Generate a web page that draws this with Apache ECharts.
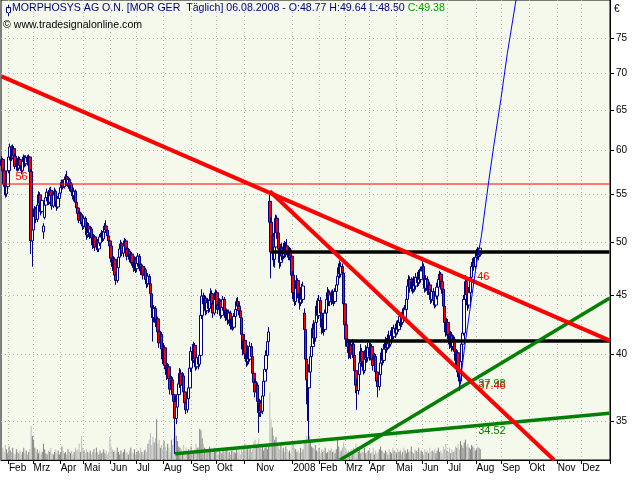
<!DOCTYPE html>
<html><head><meta charset="utf-8">
<script src="https://cdn.jsdelivr.net/npm/echarts@6/dist/echarts.min.js"></script>
<style>html,body{margin:0;padding:0;background:#fff}#c{width:640px;height:480px}</style>
</head><body><div id="c"></div>
<script>
// ---------- calendar ----------
const startDate = '2007-01-24';
const endDate = '2009-01-07';
const holidays = ['2007-04-06','2007-04-09','2007-05-01','2007-12-24','2007-12-25','2007-12-26','2007-12-31',
  '2008-01-01','2008-03-21','2008-03-24','2008-05-01','2008-12-24','2008-12-25','2008-12-26','2008-12-31','2009-01-01'];
const monthNames = ['Jan','Feb','Mrz','Apr','Mai','Jun','Jul','Aug','Sep','Okt','Nov','Dez'];
const hiddenMonthTicks = ['2007-12','2009-01'];
const yTicks = [35,40,45,50,55,60,65,70,75];
const yMinPrice = 32.4, yMaxPrice = 80.9;
const volAxisMax = 3400;

// ---------- daily candles [open, close, low, high] ----------
const candlesA = [
[58.2,58.9,57.8,59.3],[58.9,57.6,57.3,59.1],[57.6,56.1,55.8,57.9],[56.1,54.9,54.6,56.4],[55.0,55.8,54.7,56.2],
[55.8,57.6,55.5,58.0],[57.6,59.2,57.3,59.6],[59.2,60.4,58.8,60.8],[60.4,59.1,58.7,60.6],[59.1,60.2,58.9,60.7],
[60.2,59.3,58.8,60.5],[59.3,58.1,57.8,59.6],[58.1,58.8,57.6,59.2],[58.8,57.9,57.5,59.1],[57.9,58.9,57.6,59.3],
[58.9,58.2,57.8,59.2],[58.2,57.6,57.2,58.6],[57.6,58.7,57.4,59.0],[58.7,59.2,58.3,59.5],[59.2,58.4,58.0,59.4],
[58.4,59.1,58.1,59.4],[59.1,58.6,58.2,59.4],[58.6,59.2,58.3,59.5],[59.2,57.5,57.1,59.3],[57.5,50.1,48.8,57.8],
[50.1,51.2,47.6,51.8],[51.2,52.6,50.8,53.0],[52.6,53.4,52.1,53.7],[53.4,52.3,51.9,53.6],[52.3,53.8,52.0,54.2],
[53.8,54.9,53.5,55.3],[54.9,54.0,53.6,55.2],[54.0,53.1,52.7,54.3],[53.1,54.3,52.9,54.6],[51.0,51.6,50.3,51.9],
[52.5,53.8,52.3,54.1],[53.8,54.6,53.4,55.0],[54.6,55.2,54.2,55.6],[55.2,54.1,53.8,55.4],[54.1,55.4,53.9,55.7],
[55.4,54.8,54.4,55.8],[54.8,53.7,53.3,55.0],[53.7,54.9,53.5,55.2],[54.9,55.3,54.6,55.7],[55.3,54.2,53.9,55.5],
[54.2,53.6,53.2,54.5],[53.6,54.5,53.4,54.8],[54.5,55.1,54.2,55.4],[55.1,55.7,54.8,56.0],[55.7,56.3,55.4,56.6]];
const candlesB = [
[56.3,55.8,55.5,56.6],[55.8,56.6,55.6,56.9],[56.6,56.9,56.2,57.2],[56.9,56.2,55.9,57.6],[56.2,56.6,55.8,57.0],
[56.6,55.6,55.3,56.8],[55.6,56.1,55.2,56.5],[56.1,55.3,55.0,56.3],[55.3,54.8,54.4,55.7],[54.8,55.3,54.2,55.7],
[55.3,54.1,53.8,55.5],[54.1,53.5,53.1,54.4],[53.5,52.9,52.6,53.8],[52.9,52.2,51.9,53.2],[52.2,52.8,51.8,53.1],
[52.8,52.0,51.7,53.0],[52.0,51.6,51.2,52.3],[51.6,52.4,51.3,52.7],[52.4,51.5,51.1,52.6],[51.5,50.7,50.2,51.8],
[50.7,51.6,50.4,52.0],[51.6,50.9,50.5,51.9],[50.9,51.3,50.3,51.6],[51.3,50.4,50.0,51.5],[50.4,49.7,49.3,50.7],
[49.7,50.5,49.4,50.8],[50.5,49.5,49.1,50.7],[49.5,50.1,49.2,50.4],[50.1,49.3,49.0,50.3],[49.3,49.9,49.0,50.2],
[49.9,50.5,49.6,50.8],[50.5,50.9,50.2,51.2],[50.9,50.3,50.0,51.1],[50.3,51.0,50.1,51.3],[51.0,51.6,50.8,51.9],
[51.6,51.2,50.9,52.2],[51.2,50.6,50.3,51.4],[50.6,50.1,49.8,50.9],[50.1,49.6,49.2,50.4],[49.6,48.4,48.0,49.8],
[48.4,47.6,47.2,48.7],[47.6,48.3,47.2,48.6],[48.3,46.8,46.4,48.5],[46.8,46.3,45.9,47.1],[46.3,47.5,46.1,47.8],
[47.5,48.5,47.3,48.8],[48.5,49.3,48.2,49.6],[49.3,49.8,48.9,50.2],[49.8,48.9,48.6,50.0],[48.9,49.6,48.5,49.9]];
const candlesC = [
[49.6,50.1,49.2,50.4],[50.1,49.3,49.0,50.3],[49.3,48.6,48.2,49.5],[48.6,49.1,48.3,49.4],[49.1,48.3,48.0,49.3],
[48.3,48.8,47.9,49.1],[48.8,48.0,47.7,49.0],[48.0,47.5,47.1,48.3],[47.5,48.3,47.2,48.6],[48.3,47.4,47.0,48.5],
[47.4,47.9,47.1,48.2],[47.9,48.6,47.6,48.9],[48.6,47.8,47.4,48.8],[47.8,47.2,46.8,48.0],[47.2,47.6,46.9,47.9],
[47.6,46.8,46.4,47.8],[46.8,47.3,46.5,47.6],[47.3,46.4,46.0,47.5],[46.4,46.0,45.6,46.7],[46.0,46.7,45.7,47.0],
[46.7,46.0,45.6,46.9],[46.0,45.1,44.7,46.3],[45.1,43.9,43.5,45.4],[43.9,43.0,41.0,44.2],[43.0,43.8,42.6,44.1],
[43.8,42.6,42.2,44.0],[42.6,42.9,42.0,43.3],[42.9,41.8,41.4,43.1],[41.8,40.9,40.5,42.0],[40.9,41.6,40.6,41.9],
[41.6,40.4,40.1,41.8],[40.4,39.6,39.2,40.7],[39.6,40.5,39.3,40.9],[40.5,39.1,38.8,40.7],[39.1,38.4,38.0,39.4],
[38.4,39.0,38.1,39.3],[39.0,38.1,37.8,39.2],[38.1,37.3,36.9,38.4],[37.3,38.0,37.0,38.3],[38.0,36.9,36.5,38.2],
[36.9,36.4,36.0,37.2],[36.4,35.2,32.8,36.8],[35.2,36.0,34.8,36.4],[36.0,36.9,35.7,37.2],[36.9,37.7,36.6,38.0],
[37.7,38.5,37.4,38.9],[38.5,37.6,37.2,38.8],[37.6,38.3,37.3,38.6],[38.3,37.1,36.8,38.5],[37.1,36.3,35.9,37.3]];
const candlesD = [
[36.3,35.8,35.5,36.6],[35.8,36.6,35.6,36.9],[36.6,37.4,36.3,37.6],[37.4,38.9,37.2,39.3],[38.9,40.2,38.6,40.6],
[40.2,39.5,39.1,40.8],[39.5,40.7,39.3,41.0],[40.7,39.6,39.2,40.9],[39.6,39.0,38.7,39.9],[39.0,39.7,38.8,40.0],
[39.7,39.2,38.8,39.9],[39.2,39.9,39.0,40.2],[39.9,43.2,39.7,43.6],[43.2,44.9,42.9,45.5],[44.9,44.2,43.7,45.2],
[44.2,44.7,43.8,45.0],[44.7,43.6,43.2,44.9],[43.6,44.3,43.3,44.6],[44.3,43.8,43.4,44.6],[43.8,44.5,43.5,44.8],
[44.5,45.1,44.2,45.6],[45.1,44.2,43.8,45.4],[44.2,43.4,43.0,44.5],[43.4,44.6,43.2,44.9],[44.6,45.2,44.3,45.5],
[45.2,44.1,43.8,45.4],[44.1,43.7,43.3,44.4],[43.7,44.4,43.4,44.7],[44.4,43.2,42.9,44.6],[43.2,43.9,43.0,44.2],
[43.9,44.6,43.6,44.9],[44.6,43.6,43.3,44.8],[43.6,43.0,42.7,43.9],[43.0,43.5,42.8,43.8],[43.5,42.8,42.4,43.7],
[42.8,43.4,42.5,43.7],[43.4,42.3,42.0,43.6],[42.3,42.9,42.0,43.2],[42.9,42.2,41.9,43.1],[42.2,43.1,42.0,43.4],
[43.1,43.7,42.8,44.0],[43.7,44.4,43.4,44.7],[44.4,44.0,43.6,44.8],[44.0,43.6,43.2,44.3],[43.6,43.0,42.6,43.9],
[43.0,41.6,41.2,43.2],[41.6,40.4,39.9,41.9],[40.4,41.1,40.0,41.5],[41.1,40.0,39.6,41.3],[40.0,39.4,39.0,40.3]];
const candlesE = [
[39.4,40.3,39.1,40.7],[40.3,39.6,39.2,40.6],[39.6,40.6,39.4,41.0],[40.6,39.8,39.4,40.9],[39.8,38.5,38.1,40.1],
[38.5,37.8,37.4,38.8],[37.8,37.1,36.7,38.1],[37.1,37.6,36.8,37.9],[37.6,36.4,36.0,37.8],[36.4,35.6,34.2,36.7],
[35.6,36.3,35.3,36.6],[36.3,35.7,35.3,36.5],[35.7,36.8,35.5,37.1],[36.8,37.9,36.6,38.2],[37.9,38.8,37.6,39.2],
[38.8,39.9,38.6,40.3],[39.9,41.0,39.6,41.4],[41.0,41.8,40.7,42.2],[54.2,52.0,50.5,55.3],[52.0,49.0,46.5,52.5],
[49.0,50.6,48.2,51.2],[50.6,48.3,47.6,50.9],[48.3,49.5,47.5,50.0],[49.5,52.4,49.2,52.8],[52.4,50.9,50.3,52.7],
[50.9,49.3,48.8,51.3],[49.3,48.0,47.4,49.6],[48.0,49.4,47.6,49.8],[49.4,48.6,48.2,49.9],[48.6,49.5,48.3,49.9],
[49.5,48.8,48.4,50.1],[48.8,49.6,48.5,50.0],[49.6,49.0,48.7,50.3],[49.0,48.5,48.2,49.4],[48.5,49.2,48.2,49.5],
[49.2,48.6,48.2,49.4],[48.6,46.8,46.4,48.8],[46.8,45.2,44.6,47.2],[45.2,44.4,44.0,45.6],[44.4,45.6,44.1,46.0],
[45.6,46.3,45.2,46.8],[46.3,45.1,44.7,46.5],[45.1,44.3,43.7,45.4],[44.3,45.3,44.0,45.7],[45.3,44.6,44.2,46.0],
[44.6,45.8,44.3,46.2],[43.4,42.0,41.8,43.8],[42.0,39.6,39.0,42.3],[39.6,38.0,36.2,40.0],[38.0,37.4,35.0,38.6]];
const candlesF = [
[37.4,38.6,33.7,39.2],[38.6,39.8,38.0,40.4],[39.8,40.6,39.3,41.2],[40.6,42.1,40.3,42.5],[42.1,41.3,40.8,42.8],
[41.3,42.6,41.0,43.1],[42.6,44.0,42.3,44.5],[44.0,43.2,42.7,44.7],[43.2,44.5,42.9,45.0],[44.5,43.4,42.9,44.8],
[43.4,42.2,41.6,43.6],[42.2,42.9,41.7,43.3],[42.9,42.0,41.5,43.2],[42.0,43.4,41.8,43.7],[43.4,44.6,43.2,45.0],
[44.6,45.2,44.2,45.7],[45.2,44.4,44.0,45.5],[44.4,45.0,44.0,45.4],[45.0,44.5,44.1,45.4],[44.5,45.1,44.2,45.5],
[45.1,44.4,44.0,45.3],[44.4,45.3,44.2,45.6],[45.3,45.9,44.9,46.3],[45.9,46.7,45.6,47.0],[46.7,47.5,46.4,47.9],
[47.5,46.9,46.5,48.2],[46.9,47.6,46.6,48.0],[47.6,47.0,46.6,47.9],[47.0,44.2,43.8,47.3],[44.2,42.4,42.0,44.5],
[42.4,41.2,40.6,42.7],[41.2,40.6,40.2,41.6],[40.6,40.1,39.6,40.9],[40.1,40.7,39.7,41.1],[40.7,40.0,39.6,41.0],
[40.0,40.8,39.7,41.2],[40.8,39.9,39.5,41.0],[39.9,38.7,38.2,40.2],[38.7,37.6,37.0,39.0],[37.6,37.2,35.8,38.1],
[37.2,38.4,36.9,38.8],[38.4,39.3,38.0,39.7],[39.3,40.2,39.0,40.8],[40.2,39.4,39.0,40.5],[39.4,38.7,38.4,39.7],
[38.7,39.6,38.5,40.0],[39.6,40.3,39.3,40.7],[40.3,39.7,39.3,40.6],[39.7,40.5,39.4,40.9],[40.5,39.8,39.5,41.1]];
const candlesG = [
[39.8,40.6,39.5,40.9],[40.6,39.6,39.2,40.8],[39.6,39.1,38.7,39.9],[39.1,39.8,38.9,40.1],[39.8,38.6,38.2,40.0],
[38.6,37.9,37.5,38.9],[37.9,37.5,36.7,38.2],[37.5,38.4,37.2,38.7],[38.4,39.3,38.1,39.6],[39.3,40.1,39.0,40.5],
[40.1,39.5,39.1,40.4],[39.5,40.4,39.3,40.8],[40.4,41.0,40.1,41.4],[41.0,40.5,40.1,41.3],[40.5,41.2,40.3,41.6],
[41.2,40.8,40.4,41.9],[40.8,41.5,40.6,41.8],[41.5,41.9,41.2,42.2],[41.9,41.4,41.1,42.2],[41.4,42.1,41.2,42.4],
[42.1,41.7,41.3,42.5],[41.7,42.4,41.5,42.7],[42.4,42.0,41.6,42.8],[42.0,42.6,41.8,42.9],[42.6,43.1,42.3,43.4],
[43.1,42.6,42.2,43.5],[42.6,43.4,42.4,43.8],[43.4,43.0,42.6,43.9],[43.0,43.7,42.8,44.1],[43.7,44.6,43.5,45.0],
[44.6,45.8,44.4,46.2],[45.8,46.4,45.4,46.8],[46.4,45.6,45.2,46.7],[45.6,46.2,45.3,46.6],[46.2,45.5,45.1,46.5],
[45.5,46.3,45.2,46.7],[46.3,45.8,45.3,46.6],[45.8,46.6,45.5,47.0],[46.6,46.1,45.7,47.1],[46.1,46.9,45.8,47.3],
[46.9,46.4,46.0,47.4],[46.4,47.2,46.1,47.6],[47.2,47.6,46.8,48.4],[47.6,46.5,46.1,47.9],[46.5,45.6,45.2,46.8],
[45.6,46.4,45.3,46.8],[46.4,45.4,45.0,46.7],[45.4,45.9,45.0,46.3],[45.9,45.2,44.8,46.2],[45.2,44.6,44.2,45.5]];
const candlesH = [
[44.6,45.3,44.3,45.7],[45.3,44.5,44.1,45.6],[44.5,44.1,43.8,44.9],[44.1,44.9,43.9,45.2],[44.9,45.7,44.6,46.1],
[45.7,46.4,45.4,46.8],[46.4,46.9,46.0,47.2],[46.9,46.2,45.8,47.1],[46.2,45.5,45.1,46.5],[45.5,44.0,43.6,45.8],
[44.0,42.6,42.2,44.3],[42.6,41.8,41.4,42.9],[41.8,42.6,41.5,43.0],[42.6,41.6,41.2,42.9],[41.6,40.8,40.4,41.9],
[40.8,41.5,40.5,41.9],[41.5,40.6,40.2,41.8],[40.6,41.2,40.3,41.6],[41.2,40.2,39.8,41.4],[40.2,39.5,39.1,40.5],
[39.5,40.1,39.0,40.4],[40.1,38.6,38.2,40.3],[38.6,37.9,37.2,38.9],[37.9,39.4,37.7,39.8],[39.4,40.8,39.1,41.2],
[40.8,41.7,40.5,42.1],[41.7,44.6,41.5,45.0],[44.6,46.2,44.2,46.8],[46.2,45.0,44.4,46.5],[45.0,44.1,43.6,45.6],
[44.1,45.2,43.8,45.7],[45.2,46.6,44.9,47.0],[46.6,47.6,46.2,48.0],[47.6,48.0,47.1,48.4],[48.0,47.6,47.2,48.5],
[47.6,48.5,47.4,48.9],[48.5,49.0,48.2,49.3],[49.0,48.6,48.3,49.5],[48.6,48.8,48.2,49.2],[48.77,49.38,48.50,49.64]];

// ---------- daily volume (thousand shares) ----------
const volume2007a = [70,90,60,110,80,50,100,70,60,90, 50,40,80,60,50,70,40,60,90,50, 70,40,60,80,250,180,150,90,60,80,
 50,70,40,60,120,80,50,40,70,60, 90,50,40,60,80,50,70,40,60,100, 70,50,60,40,80,60,50,70,40,60,
 90,70,80,120,60,180,90,70,50,80, 60,50,70,40,60,80,50,90,60,40, 70,50,60,80,50,70,40,60,170,100,
 80,60,70,50,90,60,40,70,50,60];
const volume2007b = [80,50,60,40,70,90,60,50,80,40, 60,70,50,90,60,40,70,80,60,120, 150,200,110,170,130,160,300,120,150,90,
 110,80,140,100,70,120,90,60,150,110, 160,240,180,140,100,90,80,60,110,70, 90,60,80,50,100,70,60,80,120,90,
 90,230,220,160,120,90,70,60,80,100, 60,70,50,90,60,80,40,70,60,50, 80,60,70,90,50,60,40,70,80,60,
 50,90,60,70,40,80,60,100,120,80];
const volume2008a = [90,70,110,60,80,130,150,100,120,160, 90,80,100,70,90,120,80,110,500,300, 240,180,150,170,120,100,80,120,70,90,
 60,100,80,60,70,50,110,140,90,80, 60,70,50,90,60,80,130,150,180,120, 180,140,100,90,80,110,70,60,90,50,
 80,60,70,90,50,60,80,70,90,60, 70,50,80,160,100,60,70,90,130,100, 80,60,70,50,80,60,90,70,120,100,
 60,80,50,70,60,90,50,60,70,80];
const volume2008b = [50,60,90,40,70,50,60,80,100,70, 60,50,70,60,40,80,60,50,90,70, 60,50,80,60,70,40,60,90,70,50,
 80,60,70,100,60,50,80,70,60,90, 50,70,60,40,80,60,70,50,90,60, 70,60,80,50,70,90,60,70,50,100,
 80,120,70,60,90,50,80,60,70,100, 90,120,80,140,110,90,130,150,100,120, 90,80,110,100,90,70,80,100,90,80];

// ---------- drawn lines [dayIndex, price] ----------
const trendRedLong   = [[0, 69.5], [494, 41.1]];
const trendRedSteep  = [[218, 55.3], [449, 32.4]];
const trendGreenSteep= [[275, 32.4], [494, 44.7]];
const trendGreenFlat = [[141, 32.8], [494, 35.56]];
const levelUpper     = [[219, 49.0], [494, 49.0]];
const levelLower     = [[281, 41.06], [494, 41.06]];
const level56        = [[0, 56.1], [494, 56.1]];
const blueProjection = [[372,37.2],[376,40.3],[380,43.2],[386,47.9],[390,50.6],[396,56.5],[400,60.5],[406,66.6],[411,72.7],[419,82.0]];

// labels on lines: [dayIndex, price, text]
const label56    = [12, 56.1, '56'];
const labelRed   = [389, 46, '46'];
const labelRedS  = [389, 37.46, '37.46'];
const labelGreenS= [389, 37.98, '37.98'];
const labelGreenF= [389, 34.52, '34.52'];

// ---------- build ----------
const cats = [];
(function(){
  const d = new Date(startDate + 'T12:00:00Z'), e = new Date(endDate + 'T12:00:00Z');
  while (d <= e) {
    const wd = d.getUTCDay(), s = d.toISOString().slice(0,10);
    if (wd !== 0 && wd !== 6 && holidays.indexOf(s) < 0) cats.push(s);
    d.setUTCDate(d.getUTCDate() + 1);
  }
})();
const monthStart = cats.map((c, i) => i > 0 && c.slice(0,7) !== cats[i-1].slice(0,7) && hiddenMonthTicks.indexOf(c.slice(0,7)) < 0);
const isTick = (i) => !!monthStart[i];

const L = Math.log;
const candles = [].concat(candlesA, candlesB, candlesC, candlesD, candlesE, candlesF, candlesG, candlesH);
const candlesLog = candles.map(c => c.map(L));
const volume = [].concat(volume2007a, volume2007b, volume2008a, volume2008b);
const ff = '"Liberation Sans", Arial, sans-serif';

const volData = volume.map((v, i) => ({
  value: v,
  itemStyle: { color: (candles[i] && candles[i][1] >= candles[i][0]) ? '#808080' : '#bcbcbc' }
}));

function lineSeries(name, pts, color, width, lab, off, z) {
  const s = {
    name, type: 'line', data: pts.map(p => [p[0], L(p[1])]), symbol: 'none', silent: true,
    lineStyle: { color, width }, z: z || 5, clip: true, animation: false
  };
  if (lab) {
    s.markPoint = {
      symbol: 'circle', symbolSize: 0, silent: true, animation: false,
      data: [{ coord: [lab[0], L(lab[1])], value: lab[2],
        label: { show: true, formatter: lab[2], position: 'right', distance: 0, offset: off,
          color, fontSize: 11, fontFamily: ff } }]
    };
  }
  return s;
}

const chart = echarts.init(document.getElementById('c'), null, { renderer: 'canvas' });
chart.setOption({
  animation: false,
  backgroundColor: '#ffffff',
  title: [
    { left: 12, top: 3, padding: 0,
      text: '{a|MORPHOSYS AG O.N. [MOR GER  Täglich] 06.08.2008 - O:48.77 H:49.64 L:48.50 }{b|C:49.38}',
      textStyle: { fontWeight: 'normal', rich: {
        a: { color: '#000080', fontSize: 10.6, fontWeight: 'normal', fontFamily: ff },
        b: { color: '#00a000', fontSize: 10.6, fontWeight: 'normal', fontFamily: ff } } } },
    { left: 3, top: 20, padding: 0, text: '© www.tradesignalonline.com',
      textStyle: { color: '#000000', fontSize: 10.6, fontWeight: 'normal', fontFamily: ff } },
    { left: 614, top: 4, padding: 0, text: '€',
      textStyle: { color: '#000000', fontSize: 10, fontWeight: 'normal', fontFamily: ff } }
  ],
  graphic: [{
    type: 'group', silent: true, children: [
      { type: 'line', shape: { x1: 8.5, y1: 4, x2: 8.5, y2: 16 }, style: { stroke: '#000080', lineWidth: 1 } },
      { type: 'rect', shape: { x: 6.5, y: 7.5, width: 4, height: 5 }, style: { fill: '#ffffff', stroke: '#000080', lineWidth: 1 } }
    ]
  }],
  grid: { left: 1, right: 30, top: 0, bottom: 20, show: true, backgroundColor: '#f4f9ec',
          borderColor: '#000000', borderWidth: 1, containLabel: false },
  xAxis: {
    type: 'category', data: cats, boundaryGap: true,
    axisLine: { show: true, lineStyle: { color: '#000000', width: 1 } },
    axisTick: { show: true, interval: (i) => isTick(i), length: 4, lineStyle: { color: '#000000' } },
    axisLabel: {
      interval: (i) => isTick(i), align: 'left', margin: 3, color: '#000000', fontSize: 10, fontFamily: ff,
      formatter: (v) => {
        const m = +v.slice(5,7);
        if (v.slice(0,7) === '2007-11') return '{n|Nov}';
        return m === 1 ? v.slice(0,4) : monthNames[m-1];
      },
      rich: { n: { padding: [0,0,0,11], color: '#000000', fontSize: 10, fontFamily: ff } }
    },
    splitLine: { show: true, interval: (i) => isTick(i), lineStyle: { type: [1,3], color: '#b4b4b4', width: 1 } }
  },
  yAxis: [{
    type: 'value', position: 'right', min: L(yMinPrice), max: L(yMaxPrice), scale: true,
    axisLine: { show: true, lineStyle: { color: '#000000' } },
    axisTick: { show: true, customValues: yTicks.map(L), length: 4, lineStyle: { color: '#000000' } },
    axisLabel: { customValues: yTicks.map(L), margin: 6, color: '#000000', fontSize: 10, fontFamily: ff,
      formatter: (v) => String(Math.round(Math.exp(v))) },
    splitLine: { show: true, lineStyle: { type: [1,3], color: '#b4b4b4', width: 1 } }
  }, {
    type: 'value', min: 0, max: volAxisMax, show: false,
    axisLine: { show: false }, axisTick: { show: false }, axisLabel: { show: false }, splitLine: { show: false }
  }],
  series: [
    { name: 'Volume', type: 'bar', xAxisIndex: 0, yAxisIndex: 1, data: volData, barWidth: 1,
      silent: true, z: 1, animation: false },
    { name: 'MOR', type: 'candlestick', xAxisIndex: 0, yAxisIndex: 0, data: candlesLog, barWidth: 3, silent: true, z: 2, animation: false,
      itemStyle: { color: '#ffffff', color0: '#ff0000', borderColor: '#000080', borderColor0: '#000080', borderWidth: 1 } },
    lineSeries('level56', level56, '#ff0000', 1, label56, [-1, -7], 4),
    lineSeries('levelUpper', levelUpper, '#000000', 3.5, null, null, 5),
    lineSeries('levelLower', levelLower, '#000000', 3.5, null, null, 5),
    lineSeries('greenFlat', trendGreenFlat, '#008000', 3.5, labelGreenF, [-2, 3], 6),
    lineSeries('greenSteep', trendGreenSteep, '#008000', 3.5, labelGreenS, [-2, 4], 6),
    lineSeries('redLong', trendRedLong, '#ff0000', 4, labelRed, [-3, -7], 7),
    lineSeries('redSteep', trendRedSteep, '#ff0000', 4, labelRedS, [-2, -1], 7),
    lineSeries('blue', blueProjection, '#0000ff', 1, null, null, 8)
  ]
});
</script>
</body></html>
